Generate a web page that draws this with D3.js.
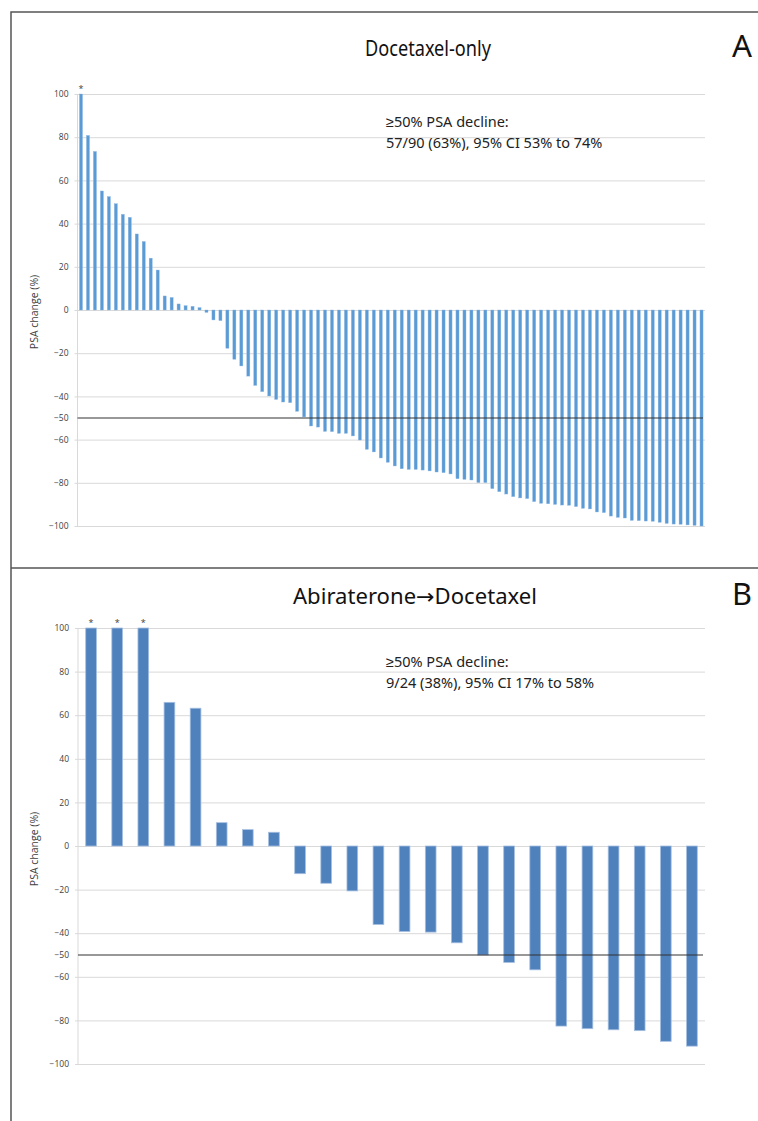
<!DOCTYPE html>
<html>
<head>
<meta charset="utf-8">
<script src="https://cdn.jsdelivr.net/npm/d3@7"></script>
<style>
  body { margin: 0; background: #fff; }
  svg { display: block; }
</style>
</head>
<body>
<div class="chart"></div>
<script>
// PSA change (%) per patient, sorted
var docetaxelOnly = [100, 80.8, 73.4, 55.1, 52.5, 49.2, 44.3, 42.9, 35.2, 31.7,
  24.0, 18.5, 6.5, 5.8, 2.8, 2.0, 1.7, 1.1, -1.1, -4.6,
  -4.9, -17.7, -22.8, -25.9, -30.6, -34.9, -37.8, -39.8, -41.4, -42.6,
  -42.9, -46.9, -49.5, -53.7, -54.2, -56.2, -56.3, -57.1, -57.1, -58.3,
  -60.2, -64.5, -65.7, -68.5, -70.5, -72.2, -73.5, -73.8, -73.8, -74.1,
  -74.5, -75.0, -75.3, -75.9, -78.1, -78.4, -78.7, -79.9, -79.9, -82.7,
  -84.1, -85.2, -86.4, -87.0, -87.3, -88.7, -89.5, -89.7, -90.0, -90.3,
  -90.4, -91.0, -91.8, -92.1, -93.5, -93.8, -95.4, -96.0, -96.3, -97.4,
  -97.5, -97.7, -97.8, -98.3, -98.8, -99.1, -99.2, -99.5, -99.7, -100];
var docetaxelStars = [0];

var abiDocetaxel = [100, 100, 100, 65.9, 63.2, 10.7, 7.5, 6.3, -12.7, -17.1,
  -20.6, -36.0, -39.2, -39.5, -44.4, -50.0, -53.4, -56.8, -82.6, -83.8,
  -84.3, -84.7, -89.6, -91.8];
var abiStars = [0, 1, 2];

var gridTicks = [100, 80, 60, 40, 20, 0, -20, -40, -60, -80, -100];
var labelTicks = [100, 80, 60, 40, 20, 0, -20, -40, -50, -60, -80, -100];
var thresholdValue = -50;

var W = 758, H = 1121;
var svg = d3.select("div.chart").append("svg")
  .attr("width", W).attr("height", H);

// frame
svg.append("path")
  .attr("d", "M11,1121 L11,12 L758,12 M11,568 L758,568")
  .style("fill", "none").style("stroke", "#555").style("stroke-width", 1.5);

function drawPanel(opt) {
  var x = d3.scaleBand()
    .domain(d3.range(opt.values.length))
    .range([opt.left, opt.right])
    .paddingInner(opt.pad).paddingOuter(opt.pad / 2);
  var y = d3.scaleLinear().domain([-100, 100]).range([opt.bottom, opt.top]);
  var g = svg.append("g");

  // gridlines
  g.append("g")
    .attr("transform", "translate(" + opt.left + ",0)")
    .call(d3.axisLeft(y).tickValues(gridTicks).tickSize(-(opt.right - opt.left)).tickFormat(""))
    .call(function (s) {
      s.select(".domain").remove();
      s.selectAll("line").attr("x1", -3).style("stroke", "#d9d9d9");
    });
  g.append("line")
    .attr("x1", opt.left).attr("x2", opt.left)
    .attr("y1", y(100)).attr("y2", y(-100))
    .style("stroke", "#d9d9d9");

  // tick labels
  g.append("g")
    .attr("transform", "translate(" + (opt.left - 3) + ",0)")
    .call(d3.axisLeft(y).tickValues(labelTicks).tickSize(0).tickPadding(6).tickFormat(d3.format("d")))
    .call(function (s) {
      s.select(".domain").remove();
      s.selectAll("text").style("font-family", "'Open Sans', sans-serif")
        .style("font-size", "8.5px").style("fill", "#404040");
    });

  // bars
  g.selectAll("rect.bar").data(opt.values).enter().append("rect")
    .attr("class", "bar")
    .attr("x", function (d, i) { return x(i); })
    .attr("width", x.bandwidth())
    .attr("y", function (d) { return y(Math.max(0, d)); })
    .attr("height", function (d) { return Math.abs(y(d) - y(0)); })
    .style("fill", opt.color)
    .style("stroke", opt.edge).style("stroke-width", opt.edgeWidth);

  // threshold line
  g.append("line")
    .attr("x1", opt.left).attr("x2", opt.right - 2)
    .attr("y1", y(thresholdValue)).attr("y2", y(thresholdValue))
    .style("stroke", "#333").style("stroke-width", 1.1);

  // stars
  g.selectAll("text.star").data(opt.stars).enter().append("text")
    .attr("x", function (i) { return x(i) + x.bandwidth() / 2; })
    .attr("y", y(100) - 2)
    .attr("text-anchor", "middle")
    .style("font-family", "'Open Sans', sans-serif").style("font-size", "9px")
    .style("fill", "#404040")
    .text("*");

  // y label
  g.append("text")
    .attr("transform", "translate(38," + opt.labelY + ") rotate(-90)")
    .attr("text-anchor", "middle")
    .style("font-family", "'Open Sans', sans-serif").style("font-size", "10.5px")
    .style("fill", "#404040")
    .text("PSA change (%)");

  // title + letter
  var title = g.append("text")
    .attr("x", opt.titleX).attr("y", opt.titleY)
    .attr("text-anchor", "middle")
    .attr("textLength", opt.titleW).attr("lengthAdjust", "spacingAndGlyphs")
    .style("font-family", "'Noto Sans', sans-serif").style("font-size", "21px")
    .style("fill", "#111");
  opt.title.forEach(function (part, i) {
    var ts = title.append("tspan").text(part);
    if (part === "\u2192") ts.style("font-family", "'DejaVu Sans', sans-serif").style("font-weight", "normal");
  });
  g.append("text")
    .attr("x", 742).attr("y", opt.titleY + 1)
    .attr("text-anchor", "middle")
    .attr("textLength", 20).attr("lengthAdjust", "spacingAndGlyphs")
    .style("font-family", "'Noto Sans', sans-serif").style("font-size", "30px")
    .style("fill", "#111")
    .text(opt.letter);

  // annotation
  var t = g.append("text")
    .style("font-family", "'Noto Sans', sans-serif").style("font-size", "14.5px")
    .style("fill", "#222");
  t.append("tspan").attr("x", opt.noteX).attr("y", opt.noteY).text("\u226550% PSA decline:");
  t.append("tspan").attr("x", opt.noteX).attr("y", opt.noteY + 21).text(opt.note);
}

drawPanel({
  values: docetaxelOnly, stars: docetaxelStars,
  left: 77.5, right: 705, top: 94, bottom: 526, pad: 0.56,
  color: "#5b9bd5", edge: "#8db7e2", edgeWidth: 0.4,
  labelY: 312, title: ["Docetaxel-only"], titleX: 428, titleY: 56, titleW: 126, letter: "A",
  noteX: 386, noteY: 127, note: "57/90 (63%), 95% CI 53% to 74%"
});

drawPanel({
  values: abiDocetaxel, stars: abiStars,
  left: 78, right: 705, top: 628, bottom: 1064, pad: 0.59,
  color: "#4f81bd", edge: "#a5bfe0", edgeWidth: 0.8,
  labelY: 849, title: ["Abiraterone", "\u2192", "Docetaxel"], titleX: 415, titleY: 604, titleW: 244, letter: "B",
  noteX: 386, noteY: 667, note: "9/24 (38%), 95% CI 17% to 58%"
});
</script>
</body>
</html>
